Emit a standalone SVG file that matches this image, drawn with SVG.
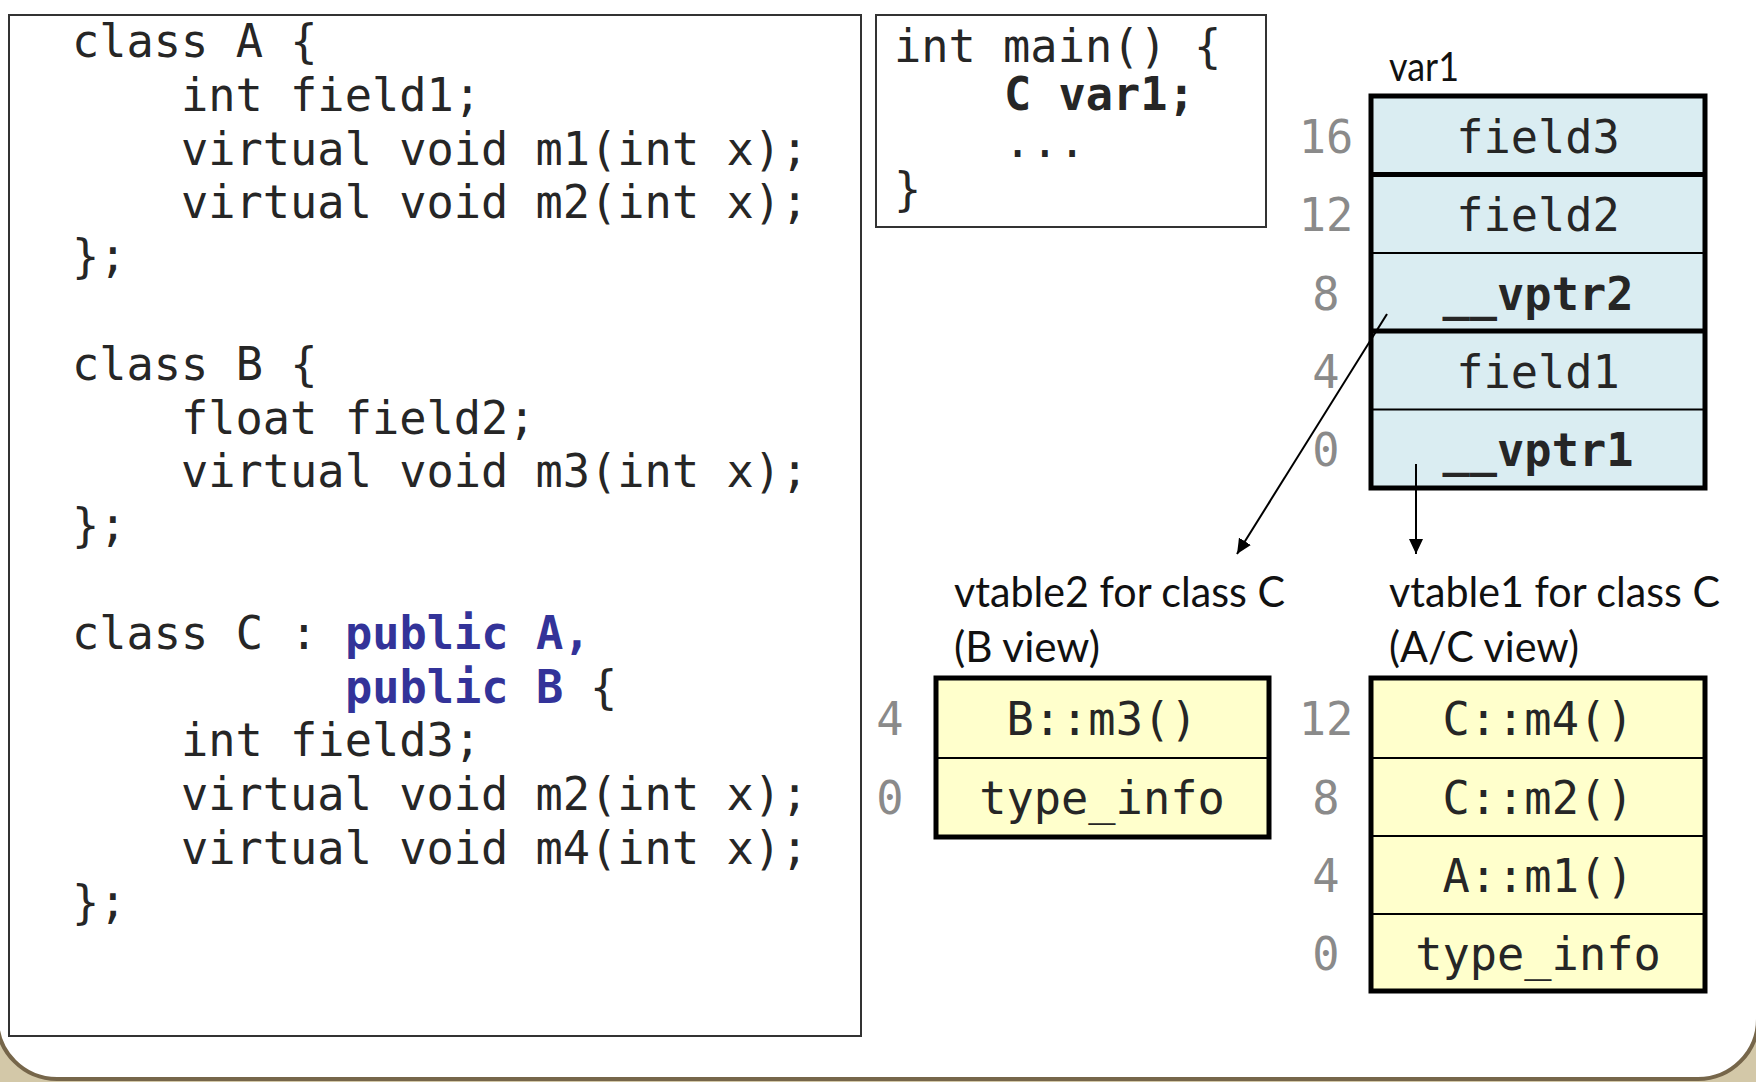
<svg xmlns="http://www.w3.org/2000/svg" width="1756" height="1082" viewBox="0 0 1756 1082">
<style>
.code{font-family:"DejaVu Sans Mono","Liberation Mono",monospace;font-size:45.3px;fill:#262626}
.b{font-weight:bold}
.kw{font-weight:bold;fill:#333399}
.off{font-family:"DejaVu Sans Mono","Liberation Mono",monospace;font-size:45.3px;fill:#8a8a8a;text-anchor:middle}
.cell{font-family:"DejaVu Sans Mono","Liberation Mono",monospace;font-size:45.3px;fill:#262626;text-anchor:middle}
.lbl{font-family:Lato,"Liberation Sans",sans-serif;font-size:43px;fill:#111}
.box{fill:#fff;stroke:#333;stroke-width:2}
.blue{fill:#daedf2}
.yel{fill:#ffffcc}
.thick{fill:none;stroke:#000;stroke-width:5}
.thin{stroke:#000;stroke-width:2}
.conn{stroke:#000;stroke-width:2;fill:none}
</style>
<defs>
<marker id="ah" markerUnits="userSpaceOnUse" markerWidth="16" markerHeight="14" refX="15" refY="7" orient="auto">
<path d="M0,0 L15,7 L0,14 z" fill="#000"/>
</marker>
</defs>
<rect x="0" y="0" width="1756" height="1082" fill="#d3c8a8"/>
<rect x="-3" y="-100" width="1761" height="1179" rx="60" ry="60" fill="#fff" stroke="#76664a" stroke-width="4"/>

<g id="classes">
<rect class="box" x="9" y="15" width="852" height="1021"/>
<text class="code">
<tspan x="72" y="57">class A {</tspan>
<tspan x="181" y="111">int field1;</tspan>
<tspan x="181" y="165">virtual void m1(int x);</tspan>
<tspan x="181" y="218">virtual void m2(int x);</tspan>
<tspan x="72" y="272">};</tspan>
<tspan x="72" y="380">class B {</tspan>
<tspan x="181" y="434">float field2;</tspan>
<tspan x="181" y="487">virtual void m3(int x);</tspan>
<tspan x="72" y="541">};</tspan>
<tspan x="72" y="649">class C :</tspan>
<tspan x="345" y="649" class="kw">public A,</tspan>
<tspan x="345" y="703" class="kw">public B</tspan>
<tspan x="590" y="703">{</tspan>
<tspan x="181" y="756">int field3;</tspan>
<tspan x="181" y="810">virtual void m2(int x);</tspan>
<tspan x="181" y="864">virtual void m4(int x);</tspan>
<tspan x="72" y="918">};</tspan>
</text>
</g>

<g id="main">
<rect class="box" x="876" y="15" width="390" height="212"/>
<text class="code">
<tspan x="894" y="62">int main() {</tspan>
<tspan x="1004" y="110" class="b">C var1;</tspan>
<tspan x="1004" y="157">...</tspan>
<tspan x="894" y="205">}</tspan>
</text>
</g>

<g id="var1">
<text x="1389" y="81" textLength="70" lengthAdjust="spacingAndGlyphs" style="font-family:Lato,'Liberation Sans',sans-serif;font-size:41px;fill:#111">var1</text>
<rect class="blue" x="1371" y="96" width="334" height="392"/>
<line class="thin" x1="1371" y1="253" x2="1705" y2="253"/>
<line class="thin" x1="1371" y1="409.5" x2="1705" y2="409.5"/>
<line class="thin" x1="1371" y1="174.5" x2="1705" y2="174.5" style="stroke-width:5"/>
<line class="thin" x1="1371" y1="331" x2="1705" y2="331" style="stroke-width:5"/>
<rect class="thick" x="1371" y="96" width="334" height="392"/>
<text class="cell" x="1538" y="153">field3</text>
<text class="cell" x="1538" y="231">field2</text>
<text class="cell b" x="1538" y="310">__vptr2</text>
<text class="cell" x="1538" y="388">field1</text>
<text class="cell b" x="1538" y="466">__vptr1</text>
<text class="off" x="1326" y="153">16</text>
<text class="off" x="1326" y="231">12</text>
<text class="off" x="1326" y="310">8</text>
<text class="off" x="1326" y="388">4</text>
<text class="off" x="1326" y="466">0</text>
</g>

<g id="vtable2">
<text class="lbl" x="954" y="607" textLength="331" lengthAdjust="spacingAndGlyphs">vtable2 for class C</text>
<text class="lbl" x="954" y="662" textLength="146" lengthAdjust="spacingAndGlyphs">(B view)</text>
<rect class="yel" x="936" y="678" width="333" height="159"/>
<line class="thin" x1="936" y1="758" x2="1269" y2="758"/>
<rect class="thick" x="936" y="678" width="333" height="159"/>
<text class="cell" x="1102" y="735">B::m3()</text>
<text class="cell" x="1102" y="814">type_info</text>
<text class="off" x="890" y="735">4</text>
<text class="off" x="890" y="814">0</text>
</g>

<g id="vtable1">
<text class="lbl" x="1389" y="607" textLength="331" lengthAdjust="spacingAndGlyphs">vtable1 for class C</text>
<text class="lbl" x="1389" y="662" textLength="190" lengthAdjust="spacingAndGlyphs">(A/C view)</text>
<rect class="yel" x="1371" y="678" width="334" height="313"/>
<line class="thin" x1="1371" y1="758" x2="1705" y2="758"/>
<line class="thin" x1="1371" y1="836" x2="1705" y2="836"/>
<line class="thin" x1="1371" y1="914" x2="1705" y2="914"/>
<rect class="thick" x="1371" y="678" width="334" height="313"/>
<text class="cell" x="1538" y="735">C::m4()</text>
<text class="cell" x="1538" y="814">C::m2()</text>
<text class="cell" x="1538" y="892">A::m1()</text>
<text class="cell" x="1538" y="970">type_info</text>
<text class="off" x="1326" y="735">12</text>
<text class="off" x="1326" y="814">8</text>
<text class="off" x="1326" y="892">4</text>
<text class="off" x="1326" y="970">0</text>
</g>

<g id="connectors">
<line class="conn" x1="1387" y1="314" x2="1237" y2="554" marker-end="url(#ah)"/>
<line class="conn" x1="1416" y1="464" x2="1416" y2="554" marker-end="url(#ah)"/>
</g>
</svg>
